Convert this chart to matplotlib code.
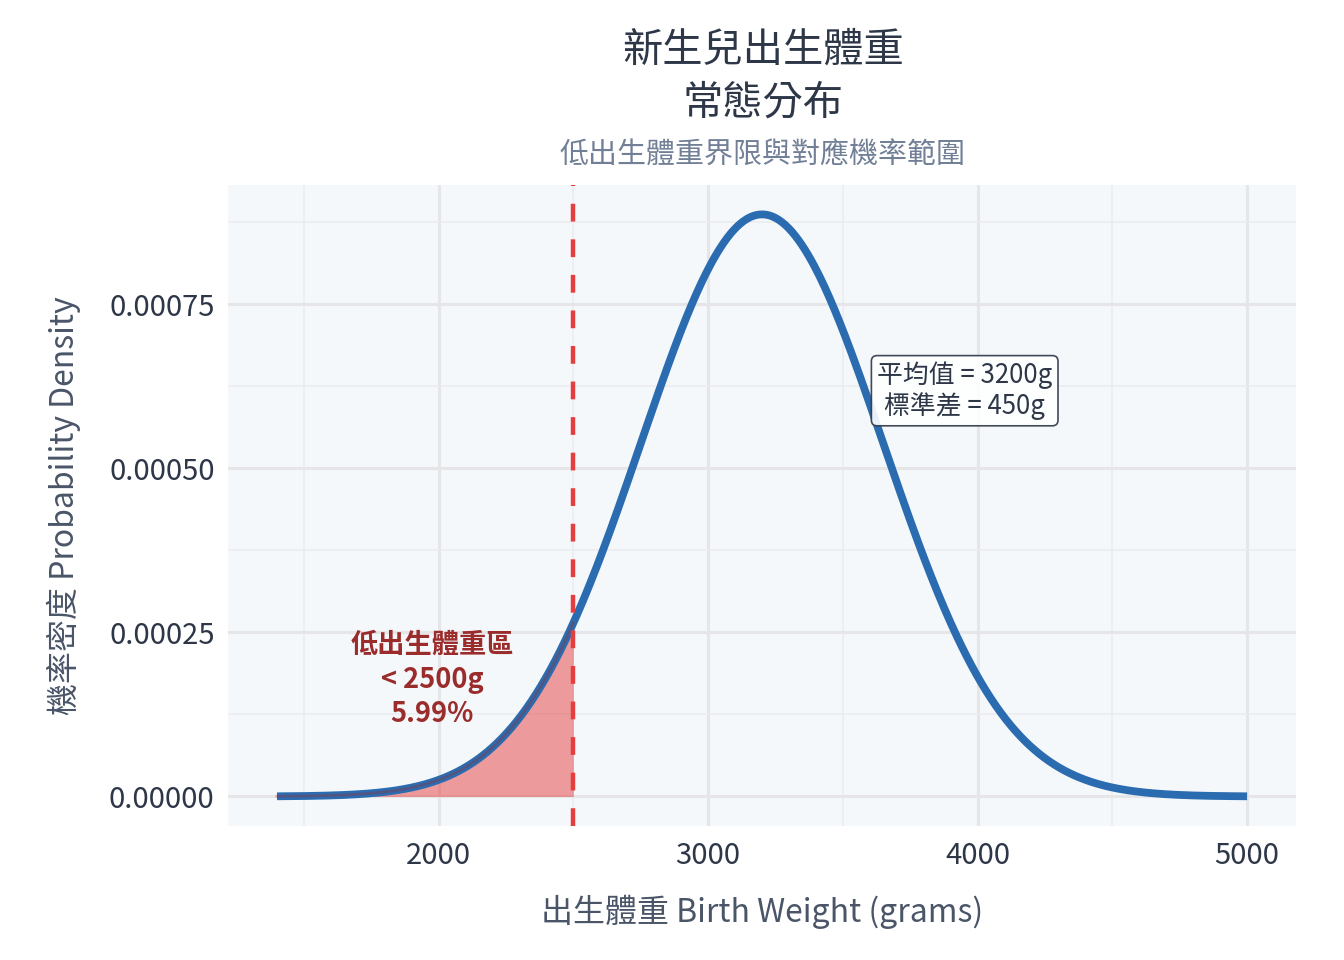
import math
import numpy as np
import matplotlib
matplotlib.use("Agg")
import matplotlib.pyplot as plt
from matplotlib.ticker import FormatStrFormatter, MultipleLocator

plt.rcParams['font.family'] = ['Noto Sans CJK TC', 'DejaVu Sans']

# distribution parameters (from the chart's annotation)
mean_g = 3200
sd_g = 450
x_start, x_end = 1400, 5000
cutoff_g = 2500
x_ticks = [2000, 3000, 4000, 5000]
y_ticks = [0.0, 0.00025, 0.0005, 0.00075]

title_text = "新生兒出生體重\n常態分布"
subtitle_text = "低出生體重界限與對應機率範圍"
xlabel_text = "出生體重 Birth Weight (grams)"
ylabel_text = "機率密度 Probability Density"
stats_text = "平均值 = 3200g\n標準差 = 450g"

x = np.linspace(x_start, x_end, 600)
pdf = np.exp(-0.5 * ((x - mean_g) / sd_g) ** 2) / (sd_g * math.sqrt(2 * math.pi))
low_pct = 0.5 * (1 + math.erf((cutoff_g - mean_g) / (sd_g * math.sqrt(2)))) * 100

fig = plt.figure(figsize=(6.72, 4.8), dpi=200)
ax = fig.add_axes([0.170, 0.140, 0.794, 0.667])
ax.set_facecolor('#f5f8fb')
for s in ax.spines.values():
    s.set_visible(False)

ax.xaxis.set_minor_locator(MultipleLocator(500))
ax.yaxis.set_minor_locator(MultipleLocator(0.000125))
ax.grid(True, which='major', color='#e6e6e9', lw=1.1)
ax.grid(True, which='minor', color='#ececef', lw=0.6)
ax.set_axisbelow(True)

mask = x <= cutoff_g
ax.fill_between(x[mask], pdf[mask], color='#e53e3e', alpha=0.5, lw=0)
ax.plot(x, pdf, color='#2b6cb0', lw=2.8, zorder=3, solid_capstyle='butt')
ax.plot(x[mask], pdf[mask], color='#9b2c2c', lw=1.0, alpha=0.35, zorder=3.5)
ax.axvline(cutoff_g, color='#e53e3e', lw=1.6, dashes=(4, 4), zorder=4)

ax.set_xticks(x_ticks)
ax.set_yticks(y_ticks)
ax.yaxis.set_major_formatter(FormatStrFormatter('%.5f'))
ax.tick_params(which='both', length=0, labelsize=10.5, colors='#2d3748')
ax.tick_params(axis='y', pad=5)
ax.tick_params(axis='x', pad=5.5)

ax.set_xlabel(xlabel_text, fontsize=11.5, color='#4a5568', labelpad=8.5)
ax.set_ylabel(ylabel_text, fontsize=11.5, color='#4a5568', labelpad=10)

ax.text(1975, 0.000178, f"低出生體重區\n< {cutoff_g}g\n{low_pct:.2f}%",
        ha='center', va='center', fontsize=9.8, fontweight='bold',
        color='#9b2c2c', linespacing=1.3)
ax.text(3952, 0.000618, stats_text, ha='center', va='center', fontsize=9.3,
        color='#2d3748', linespacing=1.15,
        bbox=dict(boxstyle='round,pad=0.22', fc='white', ec='#2d3748', lw=0.6, alpha=0.9))

fig.text(0.5675, 0.920, title_text, ha='center', va='center', fontsize=14.5,
         color='#2d3748', linespacing=1.38)
fig.text(0.5675, 0.838, subtitle_text, ha='center', va='center', fontsize=10.45,
         color='#718096')

fig.savefig("out.png", dpi=200)
